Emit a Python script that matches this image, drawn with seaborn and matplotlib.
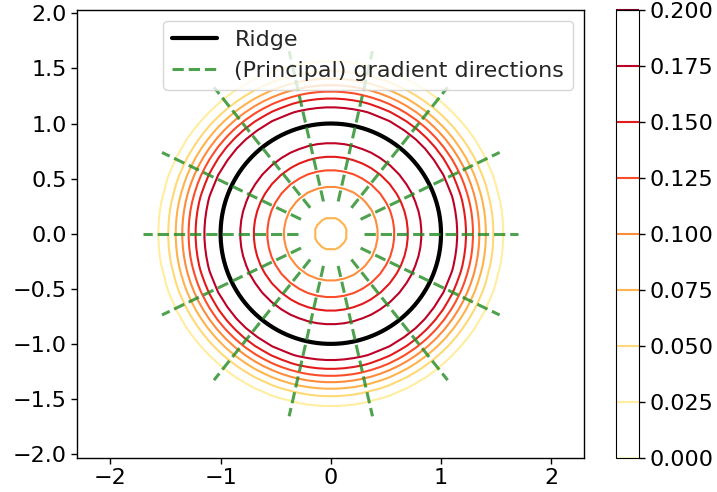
import numpy as np
import pandas as pd
import matplotlib
matplotlib.use("Agg")
import matplotlib.pyplot as plt
from matplotlib.lines import Line2D
import seaborn as sns
from math import erf, pi, sqrt

sns.set_style("white")
plt.rcParams["font.family"] = ["DejaVu Sans"]
plt.rcParams["font.size"] = 16

# Ring-shaped density p(x) ∝ exp(-(|x|^2 - r0^2)^2 / (2 s^2)), ridge at |x| = r0
ridge_radius = 1.0
density_scale = 0.5 ** 0.5
grid_limits = [-2.0, 2.0]
grid_points = 50
levels = [0.0, 0.025, 0.05, 0.075, 0.1, 0.125, 0.15, 0.175, 0.2]

# Points on the ridge where the gradient direction is drawn, and the half-length of each segment
n_directions = 14
segment_half_length = 0.7

x_ticks = [-2, -1, 0, 1, 2]
y_ticks = [-2.0, -1.5, -1.0, -0.5, 0.0, 0.5, 1.0, 1.5, 2.0]

# density on a grid, normalised to integrate to one
g = np.linspace(grid_limits[0], grid_limits[1], grid_points)
X, Y = np.meshgrid(g, g)
R2 = X ** 2 + Y ** 2
unnorm = np.exp(-(R2 - ridge_radius ** 2) ** 2 / (2 * density_scale ** 2))
norm_const = pi * density_scale * sqrt(pi / 2) * (1 + erf(ridge_radius ** 2 / (sqrt(2) * density_scale)))
Z = unnorm / norm_const

fig = plt.figure(figsize=(7.17, 4.92), dpi=100)
ax = fig.add_axes([77.3 / 717, 1 - 457.7 / 492, (584.3 - 77.3) / 717, 448 / 492])
cax = fig.add_axes([616.3 / 717, 1 - 457.7 / 492, 22.7 / 717, 448 / 492])

cmap = sns.color_palette("YlOrRd", as_cmap=True)
cs = ax.contour(X, Y, Z, levels=levels, cmap=cmap, linewidths=1.5)

# ridge circle
theta = np.linspace(0, 2 * np.pi, 400)
ridge = pd.DataFrame({"x": ridge_radius * np.cos(theta), "y": ridge_radius * np.sin(theta)})
sns.lineplot(data=ridge, x="x", y="y", sort=False, estimator=None, color="black",
             linewidth=3, ax=ax, zorder=3)

# gradient directions: normal segments through ridge points
phi = np.linspace(0, 2 * np.pi, n_directions, endpoint=False)
rows = []
for k, a in enumerate(phi):
    for r in (ridge_radius - segment_half_length, ridge_radius + segment_half_length):
        rows.append({"seg": k, "x": r * np.cos(a), "y": r * np.sin(a)})
segs = pd.DataFrame(rows)
green = "forestgreen"
sns.lineplot(data=segs, x="x", y="y", units="seg", sort=False, estimator=None,
             color=green, alpha=0.8, linewidth=2.2, linestyle="--", ax=ax, zorder=4)

ax.set_xlim(-2.30, 2.30)
ax.set_ylim(-2.033, 2.033)
ax.set_xticks(x_ticks)
ax.set_yticks(y_ticks)
ax.set_xlabel("")
ax.set_ylabel("")
for s in ax.spines.values():
    s.set_color("black")
    s.set_linewidth(1.0)
ax.tick_params(direction="out", length=4, width=1, colors="black", labelsize=16,
               bottom=True, left=True)

handles = [Line2D([], [], color="black", linewidth=3),
           Line2D([], [], color=green, alpha=0.8, linewidth=2.2, linestyle="--")]
ax.legend(handles, ["Ridge", "(Principal) gradient directions"], loc="upper right",
          fontsize=16, framealpha=0.8)

cb = fig.colorbar(cs, cax=cax)
cb.set_ticks(levels)
cb.ax.tick_params(labelsize=16, length=4, width=1, colors="black", right=True)
cb.outline.set_edgecolor("black")

fig.savefig("out.png", dpi=100)
